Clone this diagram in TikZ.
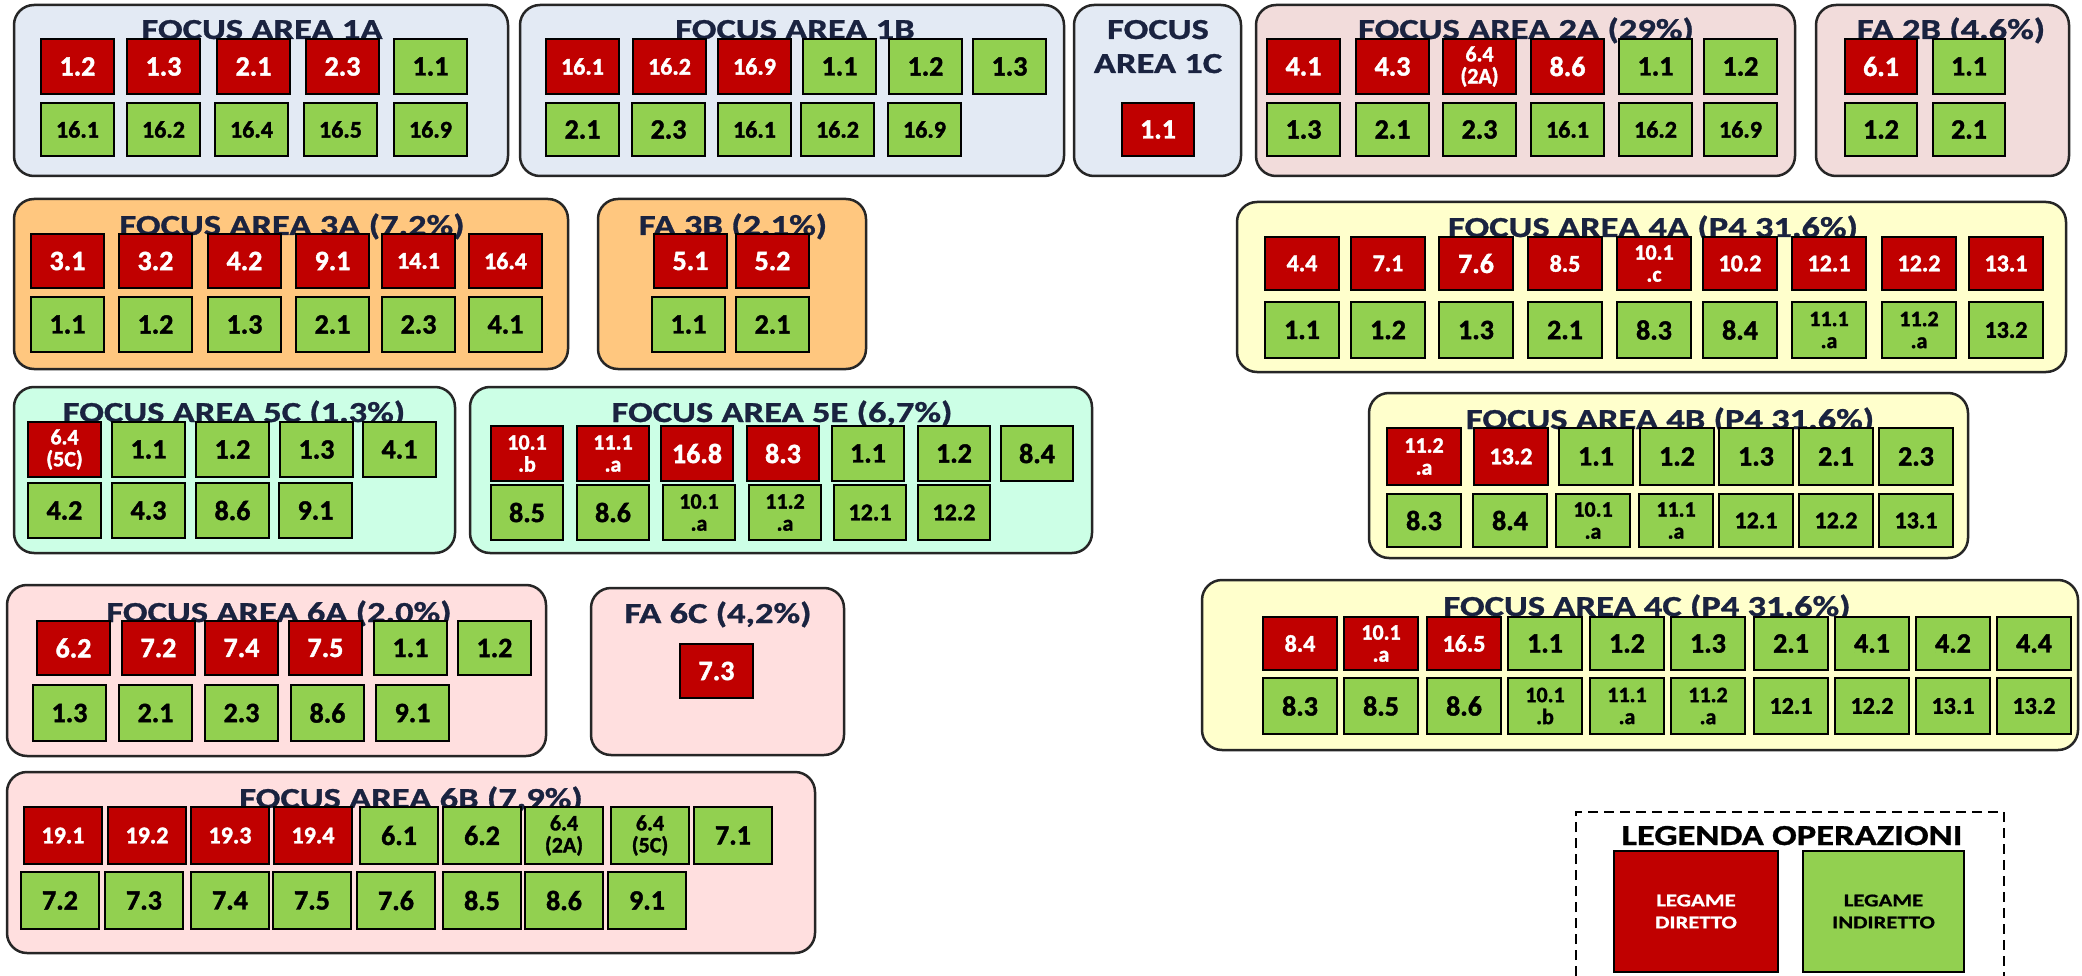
\documentclass[tikz,border=0pt]{standalone}
\usepackage{fontspec}
\setmainfont{Carlito}
\newfontfamily\ttlfont{Carlito}[FakeStretch=1.26, BoldFeatures={FakeBold=1}]
\newfontfamily\lblfont{Carlito}[BoldFeatures={FakeBold=1.5}]
\definecolor{cred}{HTML}{C00000}
\definecolor{cgreen}{HTML}{92D050}
\definecolor{bgone}{HTML}{E3EAF4}
\definecolor{bgtwo}{HTML}{F2DCDB}
\definecolor{bgthree}{HTML}{FFC77F}
\definecolor{bgfour}{HTML}{FFFFCC}
\definecolor{bgfive}{HTML}{CCFFE6}
\definecolor{bgsix}{HTML}{FFDFDF}
\definecolor{tcol}{HTML}{1A2340}
\tikzset{
 panel/.style={draw=black!85, line width=2.5pt, rounded corners=20pt},
 cell/.style={draw=black, line width=1.6pt, inner sep=0pt, outer sep=0pt, align=center},
 dir/.style={fill=cred, text=white},
 ind/.style={fill=cgreen, text=black},
 big/.style={font=\lblfont\bfseries\fontsize{28}{28}\selectfont},
 sml/.style={font=\lblfont\bfseries\fontsize{24}{24}\selectfont},
 two/.style={font=\lblfont\bfseries\fontsize{22}{22}\selectfont},
 ttl/.style={font=\ttlfont\bfseries\fontsize{29}{34}\selectfont, text=tcol, anchor=base, inner sep=0pt},
 legtxt/.style={font=\ttlfont\bfseries\fontsize{18}{22}\selectfont, align=center},
}
\newcommand\brow[5]{%
 \foreach \xl/\tx/\kk/\cc [count=\ii] in {#5}{%
  \node[cell,\cc,\kk,minimum width=#4,minimum height=#3] (#1-\ii) at ({\xl+#4/2},{#2+#3/2}) {\tx};
 }%
}
\begin{document}
\begin{tikzpicture}[x=1pt,y=-1pt]
\useasboundingbox (0,0) rectangle (2082,976);
\fill[white] (0,0) rectangle (2082,976);
% ---------- panels ----------
\draw[panel, fill=bgone] (14,5) rectangle (508,176);
\draw[panel, fill=bgone] (520,5) rectangle (1064,176);
\draw[panel, fill=bgone] (1074,5) rectangle (1241,176);
\draw[panel, fill=bgtwo] (1256,5) rectangle (1795,176);
\draw[panel, fill=bgtwo] (1816,5) rectangle (2069,176);
\draw[panel, fill=bgthree] (14,199) rectangle (568,369);
\draw[panel, fill=bgthree] (598,199) rectangle (866,369);
\draw[panel, fill=bgfour] (1237,202) rectangle (2066,372);
\draw[panel, fill=bgfour] (1369,393) rectangle (1968,558);
\draw[panel, fill=bgfour] (1202,580) rectangle (2078,750);
\draw[panel, fill=bgfive] (14,387) rectangle (455,553);
\draw[panel, fill=bgfive] (470,387) rectangle (1092,553);
\draw[panel, fill=bgsix] (7,585) rectangle (546,756);
\draw[panel, fill=bgsix] (591,588) rectangle (844,755);
\draw[panel, fill=bgsix] (7,772) rectangle (815,953);
% ---------- titles ----------
\node[ttl] (t1A) at (262,39) {FOCUS AREA 1A};
\node[ttl] (t1B) at (795,39) {FOCUS AREA 1B};
\node[ttl] (t1Ca) at (1158,39) {FOCUS};
\node[ttl] (t1Cb) at (1158,73) {AREA 1C};
\node[ttl] (t2A) at (1526,39) {FOCUS AREA 2A (29\%)};
\node[ttl] (t2B) at (1951,39) {FA 2B (4,6\%)};
\node[ttl] (t3A) at (292,235) {FOCUS AREA 3A (7,2\%)};
\node[ttl] (t3B) at (733,235) {FA 3B (2,1\%)};
\node[ttl] (t4A) at (1653,237) {FOCUS AREA 4A (P4 31,6\%)};
\node[ttl] (t4B) at (1670,429) {FOCUS AREA 4B (P4 31,6\%)};
\node[ttl] (t4C) at (1647,616) {FOCUS AREA 4C (P4 31,6\%)};
\node[ttl] (t5C) at (234,422) {FOCUS AREA 5C (1,3\%)};
\node[ttl] (t5E) at (782,422) {FOCUS AREA 5E (6,7\%)};
\node[ttl] (t6A) at (279,622) {FOCUS AREA 6A (2,0\%)};
\node[ttl] (t6C) at (718,623) {FA 6C (4,2\%)};
\node[ttl] (t6B) at (411,808) {FOCUS AREA 6B (7,9\%)};
% ---------- FA 1A ----------
\brow{a1}{39}{55}{73}{41/1.2/big/dir, 127/1.3/big/dir, 217/2.1/big/dir, 306/2.3/big/dir, 394/1.1/big/ind}
\brow{a2}{103}{53}{73}{41/16.1/sml/ind, 127/16.2/sml/ind, 215/16.4/sml/ind, 304/16.5/sml/ind, 394/16.9/sml/ind}
% ---------- FA 1B ----------
\brow{b1}{39}{55}{73}{546/16.1/sml/dir, 633/16.2/sml/dir, 718/16.9/sml/dir, 803/1.1/big/ind, 889/1.2/big/ind, 973/1.3/big/ind}
\brow{b2}{103}{53}{73}{546/2.1/big/ind, 632/2.3/big/ind, 718/16.1/sml/ind, 801/16.2/sml/ind, 888/16.9/sml/ind}
% ---------- FA 1C ----------
\brow{c1}{103}{53}{72}{1122/1.1/big/dir}
% ---------- FA 2A ----------
\brow{d1}{39}{55}{73}{1267/4.1/big/dir, 1356/4.3/big/dir, 1443/6.4\\(2A)/two/dir, 1531/8.6/big/dir, 1619/1.1/big/ind, 1704/1.2/big/ind}
\brow{d2}{103}{53}{73}{1267/1.3/big/ind, 1356/2.1/big/ind, 1443/2.3/big/ind, 1531/16.1/sml/ind, 1619/16.2/sml/ind, 1704/16.9/sml/ind}
% ---------- FA 2B ----------
\brow{e1}{39}{55}{72}{1845/6.1/big/dir, 1933/1.1/big/ind}
\brow{e2}{103}{53}{72}{1845/1.2/big/ind, 1933/2.1/big/ind}
% ---------- FA 3A ----------
\brow{f1}{234}{54}{73}{31/3.1/big/dir, 119/3.2/big/dir, 208/4.2/big/dir, 296/9.1/big/dir, 382/14.1/sml/dir, 469/16.4/sml/dir}
\brow{f2}{297}{55}{73}{31/1.1/big/ind, 119/1.2/big/ind, 208/1.3/big/ind, 296/2.1/big/ind, 382/2.3/big/ind, 469/4.1/big/ind}
% ---------- FA 3B ----------
\brow{g1}{234}{54}{73}{654/5.1/big/dir, 736/5.2/big/dir}
\brow{g2}{297}{55}{73}{652/1.1/big/ind, 736/2.1/big/ind}
% ---------- FA 4A ----------
\brow{h1}{237}{53}{74}{1265/4.4/sml/dir, 1351/7.1/sml/dir, 1439/7.6/big/dir, 1528/8.5/sml/dir, 1617/10.1\\.c/two/dir, 1703/10.2/sml/dir, 1792/12.1/sml/dir, 1882/12.2/sml/dir, 1969/13.1/sml/dir}
\brow{h2}{302}{56}{74}{1265/1.1/big/ind, 1351/1.2/big/ind, 1439/1.3/big/ind, 1528/2.1/big/ind, 1617/8.3/big/ind, 1703/8.4/big/ind, 1792/11.1\\.a/two/ind, 1882/11.2\\.a/two/ind, 1969/13.2/sml/ind}
% ---------- FA 4B ----------
\brow{i1}{428}{57}{74}{1387/11.2\\.a/two/dir, 1474/13.2/sml/dir, 1559/1.1/big/ind, 1640/1.2/big/ind, 1719/1.3/big/ind, 1799/2.1/big/ind, 1879/2.3/big/ind}
\brow{i2}{494}{53}{74}{1387/8.3/big/ind, 1473/8.4/big/ind, 1556/10.1\\.a/two/ind, 1639/11.1\\.a/two/ind, 1719/12.1/sml/ind, 1799/12.2/sml/ind, 1879/13.1/sml/ind}
% ---------- FA 4C ----------
\brow{j1}{617}{53}{74}{1263/8.4/sml/dir, 1344/10.1\\.a/two/dir, 1427/16.5/sml/dir, 1508/1.1/big/ind, 1590/1.2/big/ind, 1671/1.3/big/ind, 1754/2.1/big/ind, 1835/4.1/big/ind, 1916/4.2/big/ind, 1997/4.4/big/ind}
\brow{j2}{678}{56}{74}{1263/8.3/big/ind, 1344/8.5/big/ind, 1427/8.6/big/ind, 1508/10.1\\.b/two/ind, 1590/11.1\\.a/two/ind, 1671/11.2\\.a/two/ind, 1754/12.1/sml/ind, 1835/12.2/sml/ind, 1916/13.1/sml/ind, 1997/13.2/sml/ind}
% ---------- FA 5C ----------
\brow{k1}{422}{55}{73}{28/6.4\\(5C)/two/dir, 112/1.1/big/ind, 196/1.2/big/ind, 280/1.3/big/ind, 363/4.1/big/ind}
\brow{k2}{483}{55}{73}{28/4.2/big/ind, 112/4.3/big/ind, 196/8.6/big/ind, 279/9.1/big/ind}
% ---------- FA 5E ----------
\brow{l1}{426}{55}{72}{491/10.1\\.b/two/dir, 577/11.1\\.a/two/dir, 661/16.8/big/dir, 747/8.3/big/dir, 832/1.1/big/ind, 918/1.2/big/ind, 1001/8.4/big/ind}
\brow{l2}{485}{55}{72}{491/8.5/big/ind, 577/8.6/big/ind, 663/10.1\\.a/two/ind, 749/11.2\\.a/two/ind, 834/12.1/sml/ind, 918/12.2/sml/ind}
% ---------- FA 6A ----------
\brow{m1}{621}{54}{73}{37/6.2/big/dir, 122/7.2/big/dir, 205/7.4/big/dir, 289/7.5/big/dir, 374/1.1/big/ind, 458/1.2/big/ind}
\brow{m2}{685}{56}{73}{33/1.3/big/ind, 119/2.1/big/ind, 205/2.3/big/ind, 291/8.6/big/ind, 376/9.1/big/ind}
% ---------- FA 6C ----------
\brow{n1}{644}{54}{73}{680/7.3/big/dir}
% ---------- FA 6B ----------
\brow{o1}{807}{57}{78}{24/19.1/sml/dir, 108/19.2/sml/dir, 191/19.3/sml/dir, 274/19.4/sml/dir, 360/6.1/big/ind, 443/6.2/big/ind, 525/6.4\\(2A)/two/ind, 611/6.4\\(5C)/two/ind, 694/7.1/big/ind}
\brow{o2}{872}{57}{78}{21/7.2/big/ind, 105/7.3/big/ind, 191/7.4/big/ind, 273/7.5/big/ind, 357/7.6/big/ind, 443/8.5/big/ind, 525/8.6/big/ind, 608/9.1/big/ind}
% ---------- legend ----------
\coordinate (lgA) at (1576,976);
\coordinate (lgB) at (1576,812);
\coordinate (lgC) at (2004,812);
\coordinate (lgD) at (2004,976);
\draw[line width=2pt, dash pattern=on 10pt off 6pt] (lgA) -- (lgB) -- (lgC) -- (lgD);
\node[ttl, text=black] (lgt) at (1792,845) {LEGENDA OPERAZIONI};
\node[cell, dir, legtxt, minimum width=164, minimum height=121] (lgdir) at (1696,911.5) {LEGAME\\DIRETTO};
\node[cell, ind, legtxt, minimum width=161, minimum height=121] (lgind) at (1883.5,911.5) {LEGAME\\INDIRETTO};
\end{tikzpicture}
\end{document}
